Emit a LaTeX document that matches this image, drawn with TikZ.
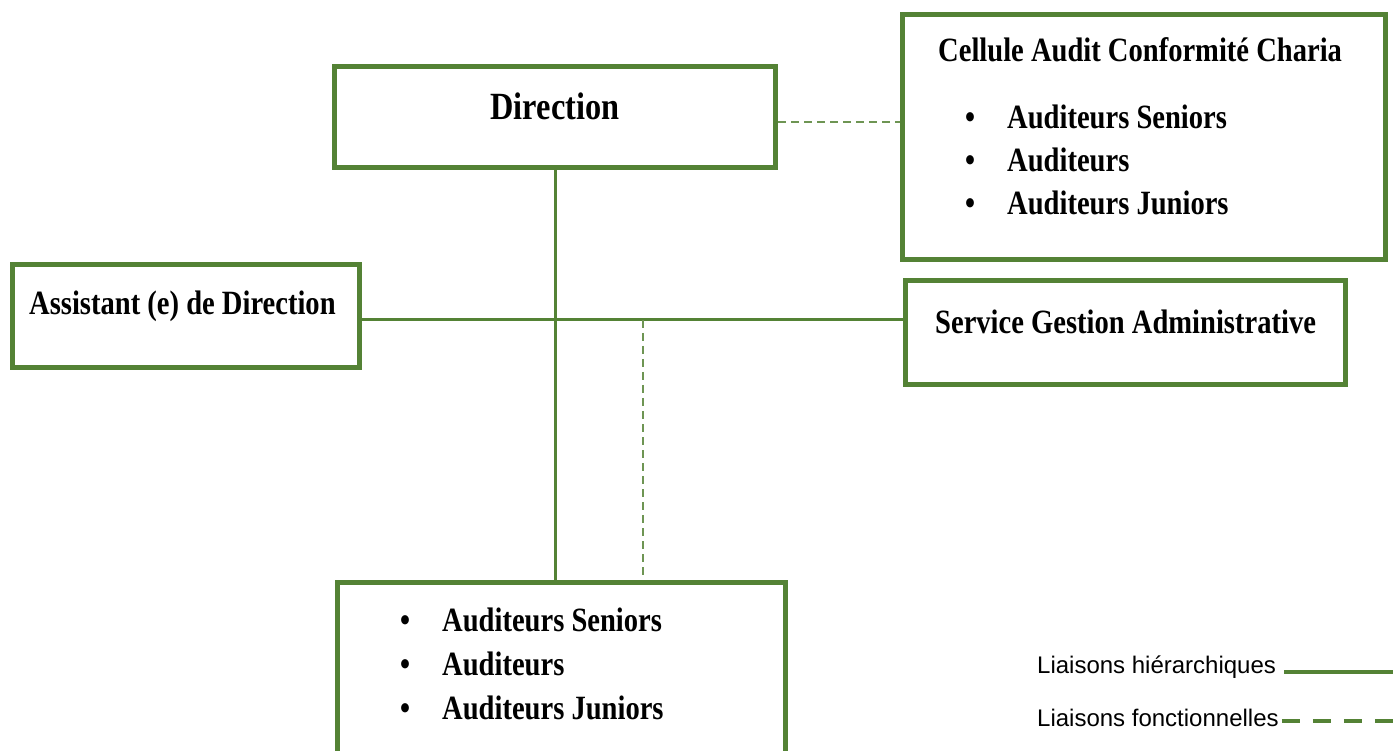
\documentclass[tikz,border=0pt]{standalone}
\usepackage{fontspec}
\setmainfont{Liberation Sans}
\newfontfamily\bx{Liberation Serif}[FakeStretch=0.84]
\definecolor{grn}{RGB}{84,130,53}
\begin{document}
\begin{tikzpicture}[x=1pt,y=-1pt,
  box/.style={draw=grn, line width=5.5pt, rectangle, inner sep=0pt},
  txt/.style={inner sep=0pt, anchor=base west, font=\bx\bfseries\fontsize{34}{40}\selectfont},
  bul/.style={inner sep=0pt, anchor=base, font=\bx\bfseries\fontsize{34}{40}\selectfont},
  hier/.style={draw=grn, line width=3pt},
  func/.style={draw=grn!85, line width=2.2pt, dash pattern=on 8pt off 5pt},
  legtxt/.style={inner sep=0pt, anchor=base west, font=\fontsize{24}{28}\selectfont},
  legsolid/.style={draw=grn, line width=4pt},
  legdash/.style={draw=grn, line width=4pt, dash pattern=on 18pt off 13pt}]
\useasboundingbox (0,0) rectangle (1393,751);
\clip (0,0) rectangle (1393,751);
% boxes
\node[box, minimum width=441pt, minimum height=101pt] (dir) at (555,117) {};
\node[box, minimum width=483pt, minimum height=245pt] (cel) at (1144,137) {};
\node[box, minimum width=440pt, minimum height=104pt] (svc) at (1125.5,332.5) {};
\node[box, minimum width=347pt, minimum height=103pt] (asst) at (186,316) {};
\node[box, minimum width=448pt, minimum height=217.5pt] (bot) at (561.5,691.25) {};
% texts
\node[inner sep=0pt, anchor=base, font=\bx\bfseries\fontsize{38.5}{44}\selectfont] (tdir) at (555,120) {Direction};
\node[txt] (tcel) at (938,62) {Cellule Audit Conformité Charia};
\node[txt] (tsvc) at (935,334) {Service Gestion Administrative};
\node[txt] (tasst) at (29,315) {Assistant (e) de Direction};
\foreach \y/\t [count=\i] in {129/Auditeurs Seniors,172/Auditeurs,215/Auditeurs Juniors}{
  \node[bul] (cb\i) at (970,\y) {•};
  \node[txt] (ct\i) at (1007,\y) {\t};
}
\foreach \y/\t [count=\i] in {631/Auditeurs Seniors,675/Auditeurs,719/Auditeurs Juniors}{
  \node[bul] (bb\i) at (405,\y) {•};
  \node[txt] (bt\i) at (442,\y) {\t};
}
% connectors
\coordinate (hy) at (0,320);
\coordinate (fy) at (0,122);
\coordinate (dv) at (643,320);
\draw[hier] (dir.south) -- (dir.south |- bot.north);
\draw[hier] (asst.east |- hy) -- (svc.west |- hy);
\draw[func] (dir.east |- fy) -- (cel.west |- fy);
\draw[func] (dv) -- (dv |- bot.north);
% legend
\node[legtxt] (l1) at (1037,673) {Liaisons hiérarchiques};
\node[legtxt] (l2) at (1037,726) {Liaisons fonctionnelles};
\coordinate (e1) at (1393,672);
\coordinate (e2) at (1393,721);
\draw[legsolid] ([xshift=8pt]l1.east |- e1) -- (e1);
\draw[legdash] ([xshift=3pt]l2.east |- e2) -- (e2);
\end{tikzpicture}
\end{document}
